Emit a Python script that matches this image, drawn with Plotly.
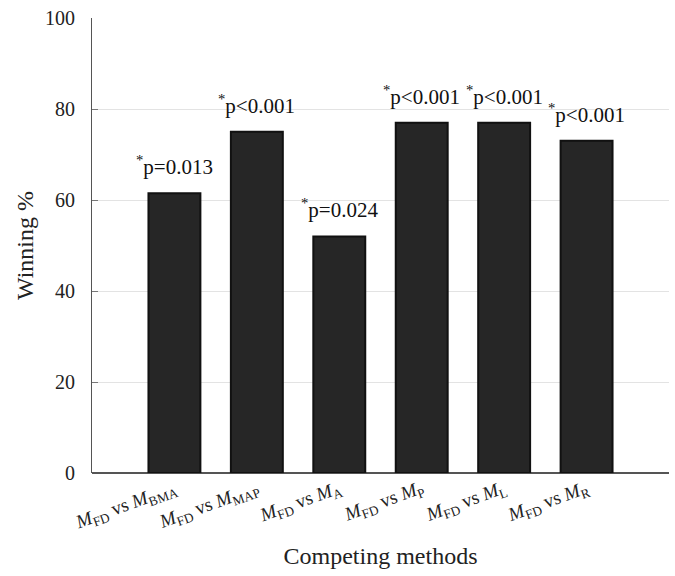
import plotly.graph_objects as go

# Pairwise comparisons of M_FD against each competing method
methods = [
    "<i>M</i><sub>FD</sub> vs <i>M</i><sub>BMA</sub>",
    "<i>M</i><sub>FD</sub> vs <i>M</i><sub>MAP</sub>",
    "<i>M</i><sub>FD</sub> vs <i>M</i><sub>A</sub>",
    "<i>M</i><sub>FD</sub> vs <i>M</i><sub>P</sub>",
    "<i>M</i><sub>FD</sub> vs <i>M</i><sub>L</sub>",
    "<i>M</i><sub>FD</sub> vs <i>M</i><sub>R</sub>",
]
winning_pct = [61.5, 75, 52, 77, 77, 73]
p_labels = ["p=0.013", "p<0.001", "p=0.024", "p<0.001", "p<0.001", "p<0.001"]

FONT = "Liberation Serif, DejaVu Serif, serif"
positions = list(range(len(methods)))

fig = go.Figure()
fig.add_trace(go.Bar(
    x=positions,
    y=winning_pct,
    width=0.63,
    marker=dict(color="#262626", line=dict(color="#111111", width=2)),
    hoverinfo="skip",
))

# significance labels above each bar
for xpos, val, lab in zip(positions, winning_pct, p_labels):
    fig.add_annotation(
        x=xpos, y=val,
        text="<sup>*</sup>" + lab,
        showarrow=False,
        xanchor="center", yanchor="bottom",
        yshift=12,
        font=dict(family=FONT, size=21, color="#111111"),
    )

fig.update_layout(
    width=675,
    height=576,
    margin=dict(l=92, r=6, t=18, b=103),
    plot_bgcolor="white",
    paper_bgcolor="white",
    font=dict(family=FONT, color="#222222"),
    showlegend=False,
    xaxis=dict(
        range=[-1, 6],
        tickmode="array",
        tickvals=positions,
        ticktext=methods,
        tickangle=-20,
        tickfont=dict(family=FONT, size=19, color="#222222"),
        showgrid=False,
        zeroline=False,
        showline=False,
        ticks="",
        title=dict(text="Competing methods", font=dict(family=FONT, size=24, color="#222222"), standoff=12),
    ),
    yaxis=dict(
        range=[0, 100],
        tickvals=[0, 20, 40, 60, 80, 100],
        tickfont=dict(family=FONT, size=20, color="#222222"),
        ticklabelstandoff=12,
        showgrid=True,
        gridcolor="#e3e3e3",
        gridwidth=1,
        zeroline=True,
        zerolinecolor="#555555",
        zerolinewidth=1.5,
        showline=True,
        linecolor="#555555",
        linewidth=1.2,
        ticks="inside",
        ticklen=6,
        tickcolor="#777777",
        title=dict(text="Winning %", font=dict(family=FONT, size=24, color="#222222"), standoff=4),
    ),
)

fig.write_html("out.html")
